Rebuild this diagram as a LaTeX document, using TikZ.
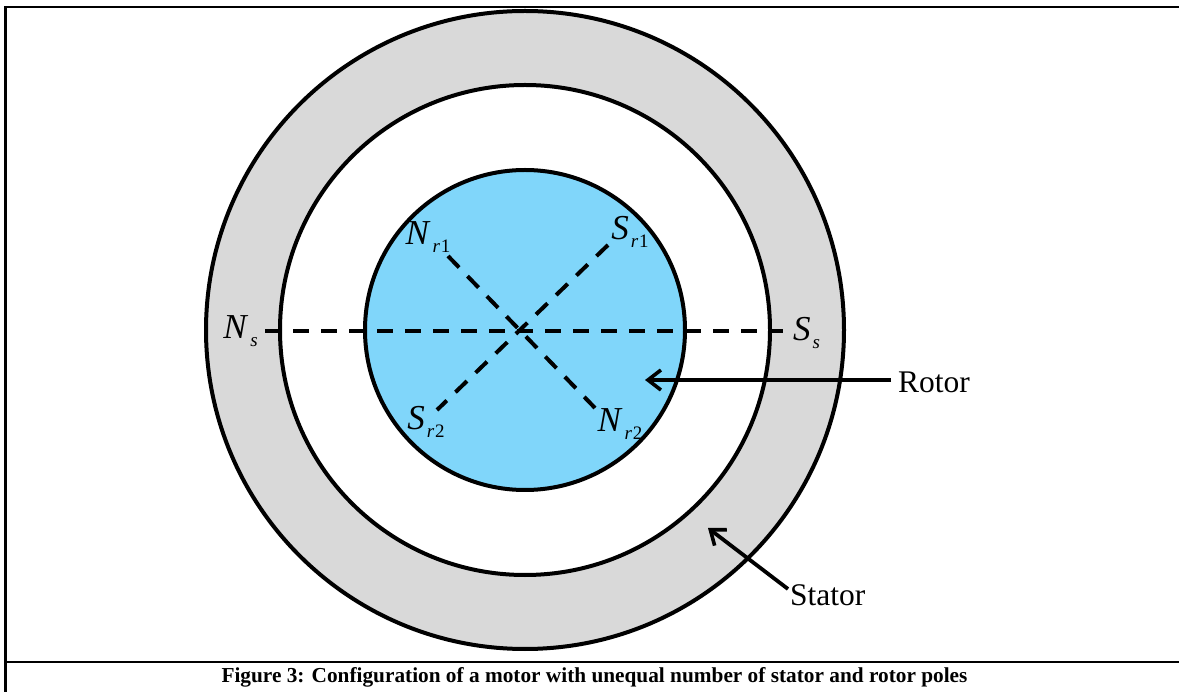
\documentclass[tikz,border=0pt]{standalone}
\usepackage{fontspec}
\setmainfont{Liberation Serif}
\usepackage{tikz}
\usetikzlibrary{positioning, arrows.meta}

\definecolor{rotorblue}{HTML}{80D6FA}
\definecolor{statorgray}{HTML}{D9D9D9}

\newcommand{\polelabel}[3]{\textit{#1}\kern2pt\raisebox{-8pt}{\fontsize{19}{19}\selectfont\textit{#2}\kern1pt#3}}

\begin{document}
\begin{tikzpicture}[
    x=1pt,
    y=-1pt,
    >={Straight Barb[length=13pt,width=20pt,line width=3.6pt]},
    ring/.style={
        draw,
        circle,
        line width=4pt,
        inner sep=0pt
    },
    polename/.style={
        inner sep=0pt,
        font=\fontsize{35}{35}\selectfont
    },
    partname/.style={
        inner sep=1pt,
        font=\fontsize{31.5}{31.5}\selectfont
    },
    fieldline/.style={
        line width=4pt,
        dash pattern=on 16pt off 12pt
    },
    pointer/.style={
        ->,
        line width=3.8pt
    }
]
\useasboundingbox (0,0) rectangle (1179,692);

% frame
\coordinate (frameA) at (5.3,692);
\coordinate (frameB) at (5.3,7);
\coordinate (frameC) at (1179,7);
\coordinate (frameD) at (5.3,662);
\coordinate (frameE) at (1179,662);
\draw[line width=2.6pt] (frameA) -- (frameB) -- (frameC);
\draw[line width=2.6pt] (frameD) -- (frameE);

% rings
\node[ring, fill=statorgray, minimum size=638pt] (stator) at (525,330) {};
\node[ring, fill=white, minimum size=490pt] (gap) at (stator.center) {};
\node[ring, fill=rotorblue, minimum size=320pt] (rotor) at (stator.center) {};

% pole labels
\node[polename] (ns) at (241,331) {\polelabel{N}{s}{}};
\node[polename] (ss) at (807,333) {\polelabel{S}{s}{}};
\node[polename] (nr1) at (428,237) {\polelabel{N}{r}{1}};
\node[polename] (sr1) at (630,232) {\polelabel{S}{r}{1}};
\node[polename] (sr2) at (426,422) {\polelabel{S}{r}{2}};
\node[polename] (nr2) at (620,424) {\polelabel{N}{r}{2}};

% part labels
\node[partname, anchor=west] (rotorname) at (897,382) {Rotor};
\node[partname, anchor=west] (statorname) at (789,595) {Stator};
\coordinate (rotortip) at (645,380);
\coordinate (statortip) at (708,528);
\coordinate (statortail) at (788,589);
\coordinate (nsend) at (265,331);
\coordinate (ssend) at (783,331);
\coordinate (nr1end) at (448,256);
\coordinate (nr2end) at (595,408);
\coordinate (sr1end) at (608,245);
\coordinate (sr2end) at (437,410);

% caption
\node[font=\fontsize{21.3}{21.3}\selectfont\bfseries, inner sep=0pt] (caption) at (594.5,677)
    {Figure 3: Configuration of a motor with unequal number of stator and rotor poles};

% field lines
\draw[fieldline] (nsend) -- (ssend);
\draw[fieldline] (nr1end) -- (nr2end);
\draw[fieldline] (sr1end) -- (sr2end);

% pointers
\draw[pointer, shorten <=6pt] (rotorname.west |- rotortip) -- (rotortip);
\draw[pointer] (statortail) -- (statortip);
\end{tikzpicture}
\end{document}
